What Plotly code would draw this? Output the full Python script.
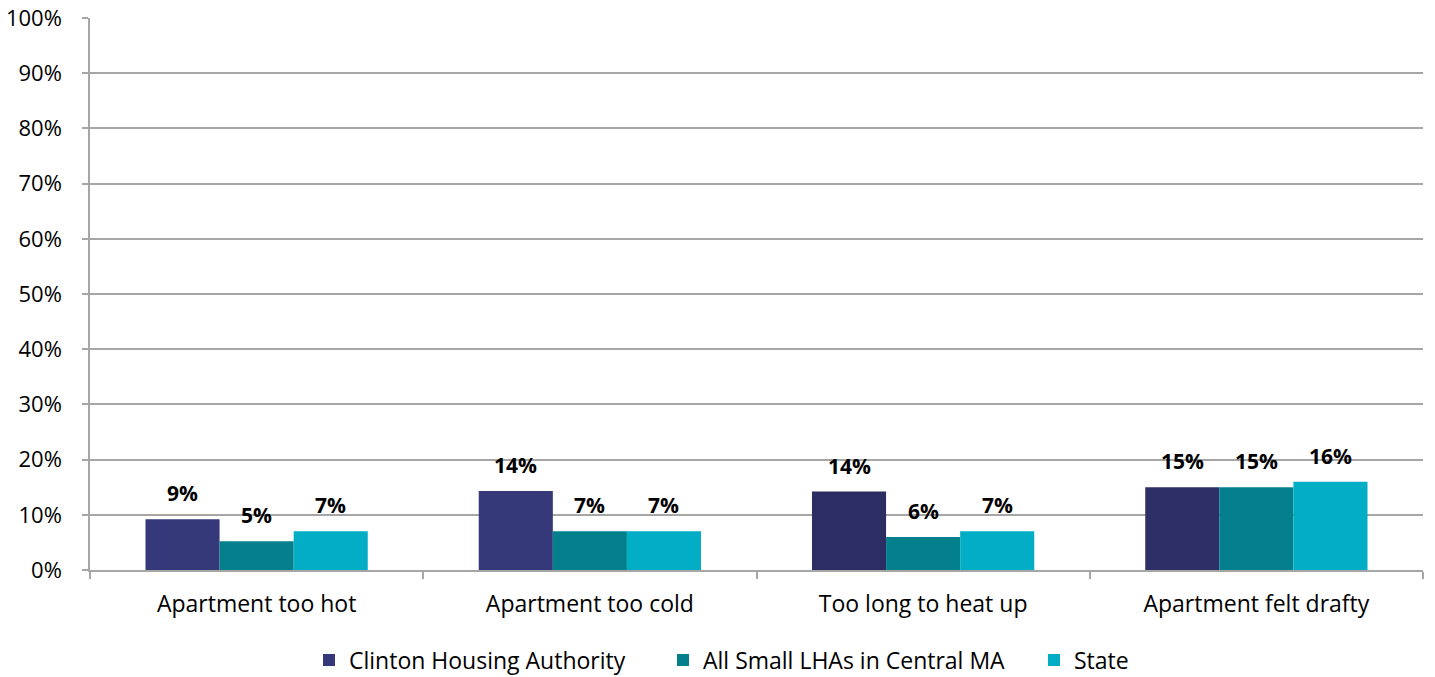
import plotly.graph_objects as go

categories = ["Apartment too hot", "Apartment too cold", "Too long to heat up", "Apartment felt drafty"]
series_names = ["Clinton Housing Authority", "All Small LHAs in Central MA", "State"]
clinton = [9.2, 14.3, 14.2, 15.0]
small_lhas = [5.2, 7.0, 6.0, 15.0]
state = [7.0, 7.0, 7.0, 16.0]
labels_clinton = ["9%", "14%", "14%", "15%"]
labels_small = ["5%", "7%", "6%", "15%"]
labels_state = ["7%", "7%", "7%", "16%"]
y_ticks = list(range(0, 101, 10))

clinton_colors = ["#353879", "#353879", "#2c2d63", "#2e2f67"]
colors = ["#2e3068", "#03808c", "#03adc6"]
FONT = "'Open Sans', sans-serif"
FS = 23
FS_Y = 22
FS_LABEL = 21

W, H = 1435, 677
OFF = 8  # page offset of the plot in the browser window
legend_text_left = [347, 701, 1072]  # window px where legend texts begin

fig = go.Figure()
series = [(clinton, labels_clinton), (small_lhas, labels_small), (state, labels_state)]
legend_ids = ["legend", "legend2", "legend3"]
for j, (vals, labs) in enumerate(series):
    mc = clinton_colors if j == 0 else colors[j]
    fig.add_trace(go.Bar(
        x=categories, y=vals, name=series_names[j],
        marker=dict(color=mc, line=dict(width=0)),
        hoverinfo="skip", legend=legend_ids[j],
    ))

# per-bar labels
bar_px = 74
for j, (vals, labs) in enumerate(series):
    for i, cat in enumerate(categories):
        fig.add_annotation(
            x=cat, y=vals[i], text="<b>" + labs[i] + "</b>",
            xref="x", yref="y", showarrow=False,
            xshift=(j - 1) * bar_px, yshift=26, yanchor="middle",
            font=dict(family=FONT, size=FS_LABEL, color="#000000"),
        )

leg_common = dict(orientation="h", yref="container", xref="container",
                  y=(H - (660 - OFF)) / H, yanchor="middle", xanchor="left",
                  font=dict(family=FONT, size=FS, color="#000000"), itemwidth=30,
                  bgcolor="rgba(0,0,0,0)", borderwidth=0)
leg_layout = {}
for j, lid in enumerate(legend_ids):
    leg_layout[lid] = dict(leg_common, x=(legend_text_left[j] - 38 - OFF) / W)

fig.update_layout(
    width=W, height=H,
    margin=dict(l=90 - OFF, r=12 + OFF, t=18 - OFF, b=107 + OFF, autoexpand=False),
    paper_bgcolor="white", plot_bgcolor="white",
    barmode="group", bargap=0.333, bargroupgap=0,
    font=dict(family=FONT, size=FS, color="#000000"),
    showlegend=True,
    **leg_layout,
)
fig.update_yaxes(
    range=[0, 100], tickvals=y_ticks, ticktext=[f"{v}%" for v in y_ticks],
    showgrid=True, gridcolor="#a6a6a6", gridwidth=1.5,
    showline=True, linecolor="#a6a6a6", linewidth=1.5,
    ticks="outside", ticklen=6, tickcolor="#a6a6a6", tickwidth=1.5,
    zeroline=False, tickfont=dict(size=FS_Y), fixedrange=True,
    automargin=False, ticklabelstandoff=16, ticklabeloverflow="allow",
)
fig.update_xaxes(
    type="category", showline=True, linecolor="#a6a6a6", linewidth=1.5,
    ticks="outside", tickson="boundaries", ticklen=7, tickcolor="#a6a6a6", tickwidth=1.5,
    showgrid=False, tickfont=dict(size=FS), fixedrange=True,
    automargin=False, ticklabelstandoff=13,
)

fig.write_html("out.html")
